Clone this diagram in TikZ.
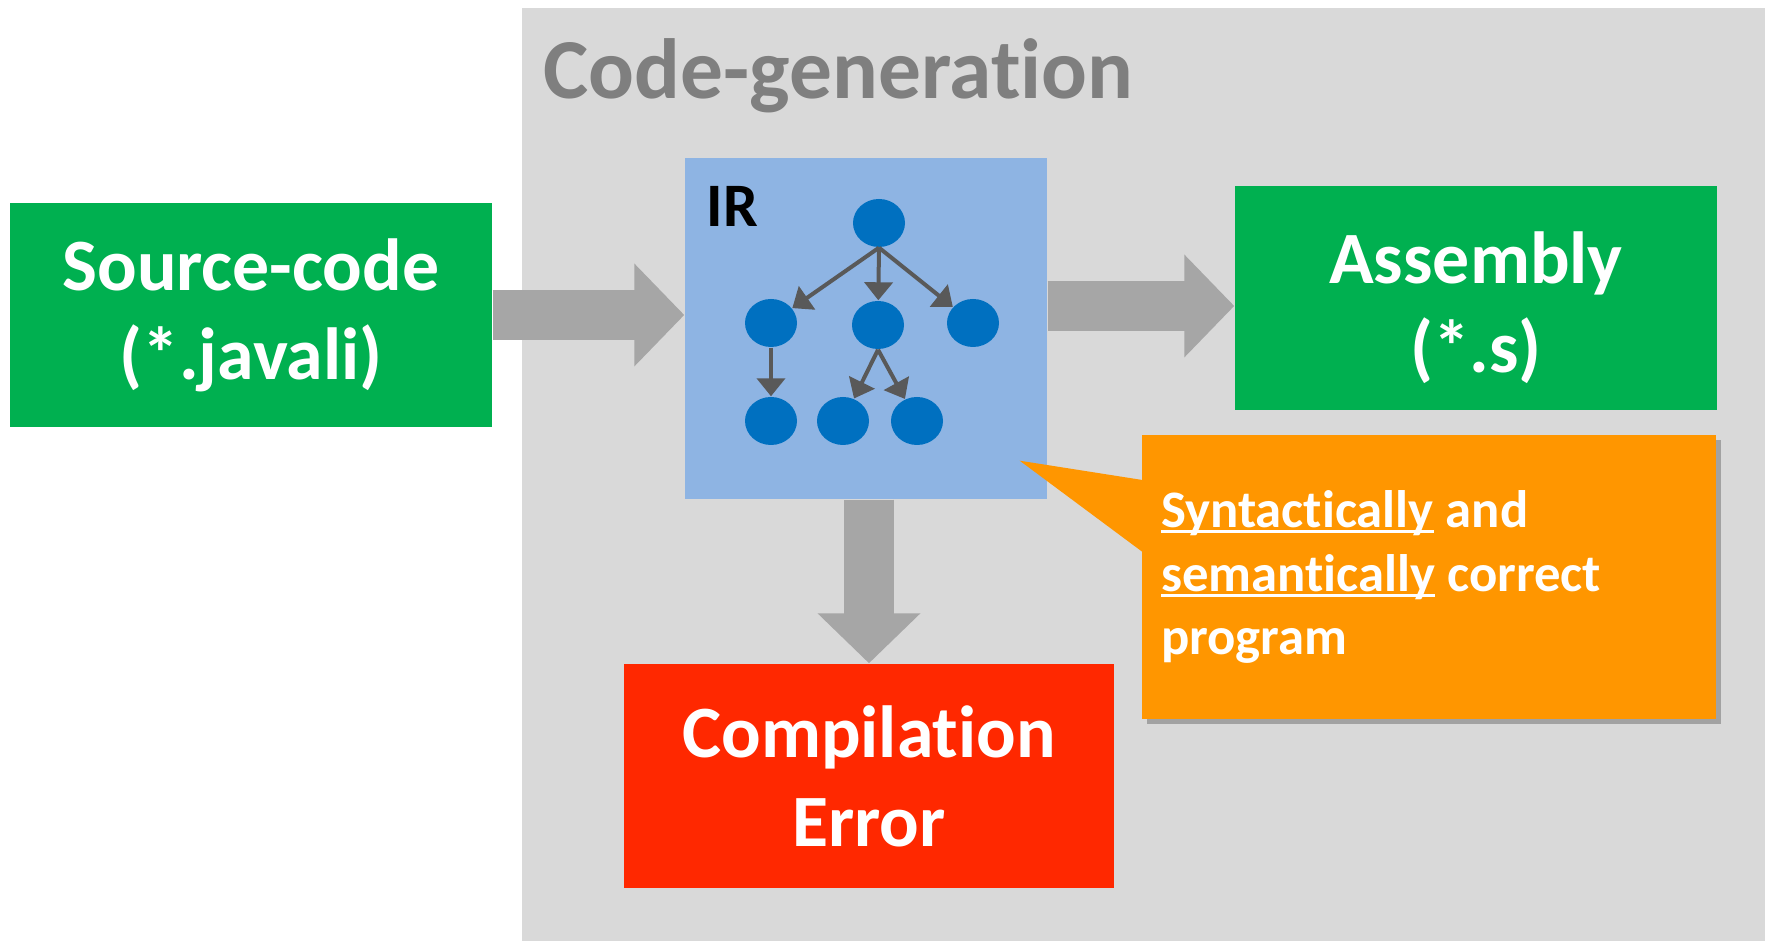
\documentclass[tikz,border=0pt]{standalone}
\usepackage{fontspec}
\setmainfont{Carlito}[Ligatures=NoCommon]
\usetikzlibrary{arrows.meta,positioning,shapes.geometric,shadows}
\definecolor{cgpanel}{HTML}{D9D9D9}
\definecolor{cgtitle}{HTML}{7F7F7F}
\definecolor{cggreen}{HTML}{00B050}
\definecolor{cgred}{HTML}{FF2800}
\definecolor{cgorange}{HTML}{FF9600}
\definecolor{cgir}{HTML}{8EB4E3}
\definecolor{cgnode}{HTML}{0070C0}
\definecolor{cgedge}{HTML}{595959}
\definecolor{cgflow}{HTML}{A6A6A6}
\newsavebox{\undlbox}
\newcommand{\undl}[1]{\leavevmode\sbox{\undlbox}{#1}\rlap{\rule[-0.12em]{\wd\undlbox}{0.06em}}\usebox{\undlbox}}

\begin{document}
\begin{tikzpicture}[
  font=\bfseries,
  stage/.style={fill=#1,text=white,align=center,minimum width=4.82cm,minimum height=2.24cm,inner sep=0pt,font=\bfseries\fontsize{21}{25.3}\selectfont},
  flow/.style={cgflow,line width=0.5cm,-{Triangle[length=0.5cm,width=1cm]}},
  treenode/.style={ellipse,fill=cgnode,minimum width=0.52cm,minimum height=0.48cm,inner sep=0pt},
  treeedge/.style={cgedge,line width=0.04cm,-{Triangle[length=0.18cm,width=0.28cm]}}
]
\useasboundingbox (0,0) rectangle (17.71,9.41);
\fill[white] (0,0) rectangle (17.71,9.41);
\fill[cgpanel] (5.22,0) rectangle (17.65,9.33);
\node[anchor=base west,inner sep=0pt,text=cgtitle,font=\bfseries\fontsize{24.3}{29}\selectfont] (title) at (5.43,8.42) {Code-generation};

% stages
\node[stage=cggreen] (src) at (2.51,6.26) {Source-code\\(*.javali)};
\node[fill=cgir,minimum width=3.62cm,minimum height=3.41cm,inner sep=0pt] (ir) at (8.66,6.125) {};
\node[stage=cggreen] (asm) at (14.76,6.43) {\rule{0pt}{20pt}Assembly\\(*.s)};
\node[stage=cgred,minimum width=4.9cm] (err) at (8.69,1.65) {Compilation\\Error};

\draw[flow] (src.east) -- (src.east -| ir.west);
\draw[flow] ([yshift=-0.08cm]asm.west -| ir.east) -- ([yshift=-0.08cm]asm.west);
\draw[flow] (ir.south -| err.north) -- (err.north);

% tree inside the IR
\node[anchor=base west,inner sep=0pt,font=\bfseries\fontsize{17.6}{20}\selectfont] (irlabel) at (7.06,7.14) {IR};
\node[treenode] (root) at (8.79,7.18) {};
\node[treenode] (c1) at (7.71,6.18) {};
\node[treenode] (c2) at (8.78,6.16) {};
\node[treenode] (c3) at (9.73,6.18) {};
\node[treenode] (b1) at (7.71,5.20) {};
\node[treenode] (b2) at (8.43,5.20) {};
\node[treenode] (b3) at (9.17,5.20) {};
\draw[treeedge] (root.south) -- (c1);
\draw[treeedge] (root.south) -- (c2);
\draw[treeedge] (root.south) -- (c3);
\draw[treeedge] (c1) -- (b1);
\draw[treeedge] (c2.south) -- (b2);
\draw[treeedge] (c2.south) -- (b3);

% callout
\node[fill=cgorange,drop shadow={shadow xshift=0.05cm,shadow yshift=-0.05cm,opacity=0.25,fill=black},
  text width=5.36cm,inner xsep=0.19cm,inner ysep=0pt,minimum height=2.84cm,align=left,text=white,
  font=\bfseries\fontsize{15}{18.2}\selectfont] (note) at (14.29,3.64)
  {\spaceskip=0.23em\relax
   \undl{Syntactically} and\\\undl{semantically} correct\\program};
\coordinate (irtip) at ([xshift=-0.28cm,yshift=0.39cm]ir.south east);
\fill[cgorange] (irtip) -- ([xshift=0.03cm,yshift=-0.46cm]note.north west) -- ([xshift=0.03cm,yshift=-1.19cm]note.north west) -- cycle;
\end{tikzpicture}
\end{document}
